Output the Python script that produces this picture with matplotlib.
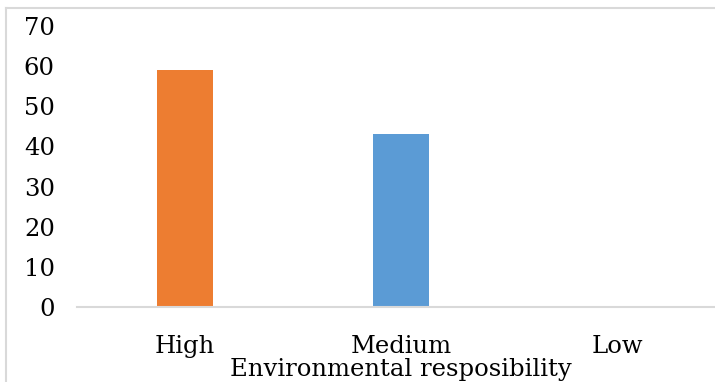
import matplotlib
matplotlib.use("Agg")
import matplotlib.pyplot as plt
from matplotlib.lines import Line2D

# environmental responsibility levels (% of respondents)
categories = ["High", "Medium", "Low"]
values = [59, 43, 0]
bar_colors = ["#ED7D31", "#5B9BD5", "#A5A5A5"]
y_ticks = [0, 10, 20, 30, 40, 50, 60, 70]

plt.rcParams["font.family"] = ["DejaVu Serif"]

W, H = 715, 382
fig = plt.figure(figsize=(W / 100, H / 100), dpi=100)

# light grey frame: only the top and left edges fall inside the page
top_y = 1 - 7.5 / H
left_x = 6 / W
fig.add_artist(Line2D([left_x, 1.0], [top_y, top_y], transform=fig.transFigure,
                      color="#d9d9d9", linewidth=1.5))
fig.add_artist(Line2D([left_x, left_x], [0, top_y], transform=fig.transFigure,
                      color="#d9d9d9", linewidth=1.5))

ax = fig.add_axes([77 / W, (H - 307) / H, 648 / W, 281 / H])
x = list(range(len(categories)))
ax.bar(x, values, width=0.255, color=bar_colors, zorder=2)

ax.set_xlim(-0.5, 2.5)
ax.set_ylim(0, 70)
ax.set_yticks(y_ticks)
ax.set_yticklabels([str(t) for t in y_ticks], fontsize=17.5)
ax.set_xticks(x)
ax.set_xticklabels(categories, fontsize=17.5)
ax.tick_params(axis="y", length=0, pad=16)
ax.tick_params(axis="x", length=0, pad=20)

for side in ["top", "right", "left"]:
    ax.spines[side].set_visible(False)
ax.spines["bottom"].set_color("#d9d9d9")
ax.spines["bottom"].set_linewidth(1.5)
ax.set_facecolor("none")

fig.text(401 / W, 6 / H, "Environmental resposibility", ha="center", va="baseline",
         fontsize=17.5)

fig.savefig("out.png", dpi=100)
